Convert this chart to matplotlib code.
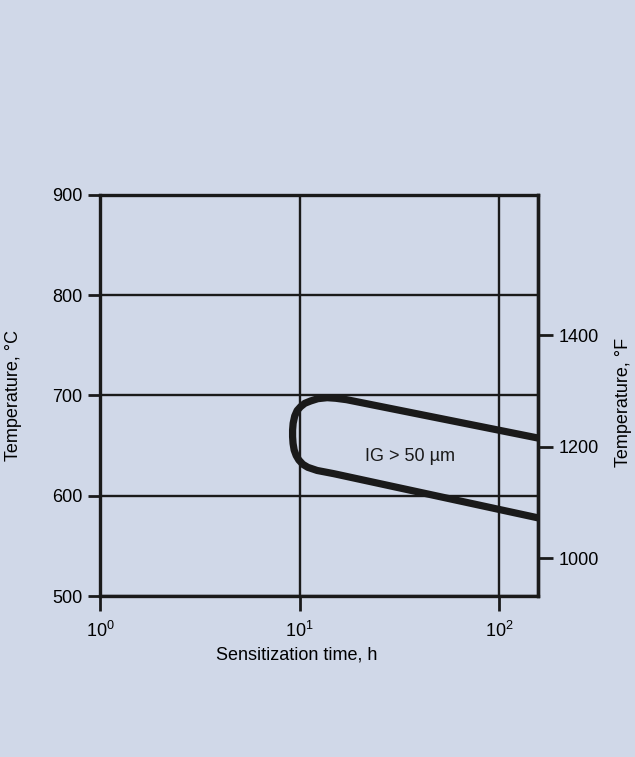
import numpy as np
import matplotlib
matplotlib.use("Agg")
import matplotlib.pyplot as plt
from matplotlib.ticker import FixedLocator, FixedFormatter, NullLocator

plt.rcParams['font.family'] = ['Liberation Sans', 'DejaVu Sans']
plt.rcParams['mathtext.fontset'] = 'custom'
plt.rcParams['mathtext.rm'] = 'Liberation Sans'

# C-curve traced from the upper right end, round the nose, to the lower right end
time_h = [157.6, 17.18, 15.18, 13.73, 12.33, 11.34, 10.61, 10.10, 9.71, 9.44,
          9.27, 9.21, 9.21, 9.26, 9.38, 9.60, 9.90, 10.37, 10.99, 12.23, 14.83, 157.6]
temp_c = [657.5, 695.8, 697.2, 697.8, 696.8, 694.5, 692.2, 688.8, 685.0, 679.5,
          672.3, 665.6, 658.9, 652.2, 645.6, 640.2, 635.7, 631.4, 628.4, 625.3, 622.1, 578.0]

x_ticks = [1, 10, 100]
x_labels = ['$10^{0}$', '$10^{1}$', '$10^{2}$']
y_ticks = [500, 600, 700, 800, 900]
f_ticks = [1000, 1200, 1400]


def c2f(c):
    return c * 9 / 5 + 32


bg = '#d0d8e8'
ink = '#1a1a1a'

fig = plt.figure(figsize=(6.35, 7.57), dpi=100, facecolor=bg)
ax = fig.add_axes([0.158, 0.2123, 0.690, 0.5306], facecolor=bg)

ax.plot(time_h, temp_c, color=ink, lw=5.2, solid_capstyle='butt', solid_joinstyle='round')

ax.set_xscale('log')
ax.set_xlim(1, 157.6)
ax.set_ylim(500, 900)
ax.xaxis.set_major_locator(FixedLocator(x_ticks))
ax.xaxis.set_major_formatter(FixedFormatter(x_labels))
ax.xaxis.set_minor_locator(NullLocator())
ax.set_yticks(y_ticks)

ax.grid(True, color=ink, lw=1.7)
for s in ax.spines.values():
    s.set_color(ink)
    s.set_linewidth(2.4)

ax.tick_params(axis='y', length=9, width=2.0, color=ink, labelsize=13, pad=4)
ax.tick_params(axis='x', length=11, width=2.0, color=ink, labelsize=13, pad=7)

ax.set_xlabel('Sensitization time, h', fontsize=13)
ax.xaxis.set_label_coords(0.449, -0.125)
ax.xaxis.label.set_va('top')
ax.set_ylabel('Temperature, °C', fontsize=13)
ax.yaxis.set_label_coords(-0.179, 0.5)

# right-hand scale in Fahrenheit
ax2 = ax.twinx()
ax2.set_ylim(c2f(500), c2f(900))
ax2.set_yticks(f_ticks)
ax2.yaxis.set_minor_locator(NullLocator())
ax2.tick_params(length=11, width=2.0, color=ink, labelsize=13, pad=3.6)
for s in ax2.spines.values():
    s.set_visible(False)
ax2.spines['right'].set_visible(True)
ax2.spines['right'].set_color(ink)
ax2.spines['right'].set_linewidth(2.4)
ax2.set_ylabel('Temperature, °F', fontsize=13)
ax2.yaxis.set_label_coords(1.174, 0.4825)

ax.text(35.7, 639.7, 'IG > 50 µm', fontsize=13, ha='center', va='center', color=ink)

fig.savefig('out.png', dpi=100, facecolor=bg)
